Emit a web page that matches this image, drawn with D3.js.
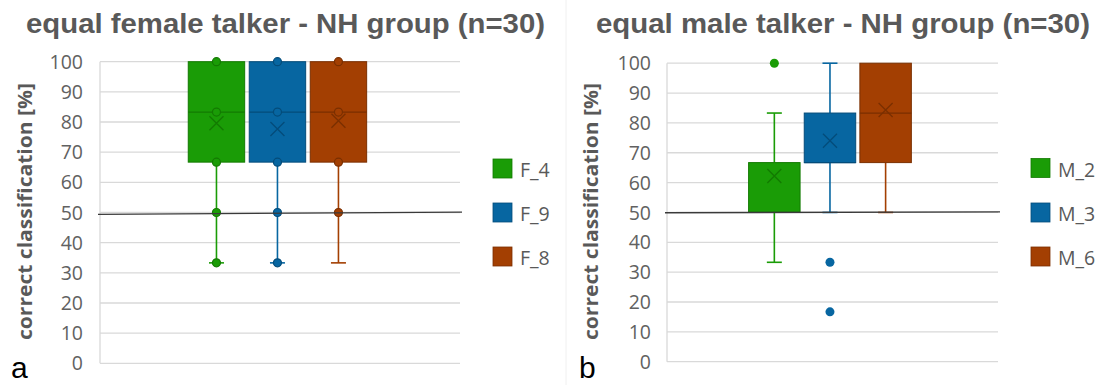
<!DOCTYPE html>
<html>
<head>
<meta charset="utf-8">
<script src="https://cdn.jsdelivr.net/npm/d3@7"></script>
<style>
  html, body { margin: 0; padding: 0; background: #fff; }
  svg { display: block; }
</style>
</head>
<body>
<svg id="chart" width="1102" height="385"></svg>
<script>
// ---- data: equal female talker ----
const femaleSeries = ["F_4", "F_9", "F_8"];
const femaleQ1 = [66.7, 66.7, 66.7];
const femaleMedian = [83.3, 83.3, 83.3];
const femaleQ3 = [100, 100, 100];
const femaleMean = [79.6, 77.7, 80.4];
const femaleWhiskerLow = [33.3, 33.3, 33.3];
const femaleWhiskerHigh = [100, 100, 100];
const femalePoints = [
  [100, 83.3, 66.7, 50, 33.3],
  [100, 83.3, 66.7, 50, 33.3],
  [100, 83.3, 66.7, 50]
];
const femaleOutliers = [[], [], []];
const femaleChance = [49.4, 50.1];

// ---- data: equal male talker ----
const maleSeries = ["M_2", "M_3", "M_6"];
const maleQ1 = [50, 66.7, 66.7];
const maleMedian = [50, 66.7, 83.3];
const maleQ3 = [66.7, 83.3, 100];
const maleMean = [62.2, 74.0, 84.3];
const maleWhiskerLow = [33.3, 50, 50];
const maleWhiskerHigh = [83.3, 100, 100];
const malePoints = [[], [], []];
const maleOutliers = [[100], [33.3, 16.7], []];
const maleChance = [49.9, 50.2];

const yTicks = [0, 10, 20, 30, 40, 50, 60, 70, 80, 90, 100];
const seriesFill = ["#1a9c06", "#0766a1", "#a33f02"];
const seriesDark = ["#137a02", "#044c7a", "#7a2f00"];

const svg = d3.select("#chart");

function panel(cfg) {
  const g = svg.append("g");
  const y = d3.scaleLinear().domain([0, 100]).range([cfg.y0, cfg.y1]);
  const outer = d3.scaleBand().domain(["NH"]).range([cfg.x0, cfg.x1])
    .paddingOuter(cfg.padOuter).paddingInner(0).align(cfg.align);
  const x = d3.scaleBand().domain(cfg.series)
    .range([outer("NH"), outer("NH") + outer.bandwidth()])
    .paddingInner(0.075).paddingOuter(0);

  // title
  g.append("text")
    .attr("x", cfg.titleX).attr("y", 33)
    .attr("font-family", "Liberation Sans, Arial, sans-serif")
    .attr("font-weight", "bold").attr("font-size", 28.5)
    .attr("fill", "#595959")
    .attr("textLength", cfg.titleLen).attr("lengthAdjust", "spacingAndGlyphs")
    .text(cfg.title);

  // gridlines
  g.append("g").selectAll("line").data(yTicks).join("line")
    .attr("x1", cfg.x0).attr("x2", cfg.x1)
    .attr("y1", d => y(d)).attr("y2", d => y(d))
    .attr("stroke", "#d9d9d9").attr("stroke-width", 1.3);
  g.append("line")
    .attr("x1", cfg.x0).attr("x2", cfg.x0)
    .attr("y1", y(0)).attr("y2", y(100))
    .attr("stroke", "#d9d9d9").attr("stroke-width", 1.3);

  // y axis tick labels
  const axis = d3.axisLeft(y).tickValues(yTicks).tickSize(0).tickPadding(0);
  const ax = g.append("g").attr("transform", `translate(${cfg.tickX},0)`).call(axis);
  ax.select(".domain").remove();
  ax.selectAll("text")
    .attr("font-family", "Open Sans, sans-serif").attr("font-size", 19.5)
    .attr("fill", "#616161").attr("dy", "0.34em");

  // y axis title
  g.append("text")
    .attr("transform", `translate(${cfg.labelX},211.5) rotate(-90)`)
    .attr("text-anchor", "middle")
    .attr("font-family", "Open Sans, sans-serif")
    .attr("font-weight", "bold").attr("font-size", 20)
    .attr("fill", "#595959")
    .attr("textLength", 257).attr("lengthAdjust", "spacingAndGlyphs")
    .text("correct classification [%]");

  // panel letter
  g.append("text")
    .attr("x", cfg.letterX).attr("y", 378)
    .attr("font-family", "Liberation Sans, Arial, sans-serif")
    .attr("font-size", 30).attr("fill", "#000")
    .text(cfg.letter);

  const rows = cfg.series.map((s, i) => ({
    s, i, q1: cfg.q1[i], med: cfg.median[i], q3: cfg.q3[i], mean: cfg.mean[i],
    lo: cfg.wLow[i], hi: cfg.wHigh[i], pts: cfg.points[i], out: cfg.outliers[i]
  }));
  const cx = d => x(d.s) + x.bandwidth() / 2;
  const capW = 15;

  const boxes = g.append("g").selectAll("g").data(rows).join("g");

  // whiskers
  boxes.each(function (d) {
    const b = d3.select(this);
    const c = cx(d);
    if (d.lo < d.q1) {
      b.append("line").attr("x1", c).attr("x2", c)
        .attr("y1", y(d.q1)).attr("y2", y(d.lo))
        .attr("stroke", seriesFill[d.i]).attr("stroke-width", 1.6);
      b.append("line").attr("x1", c - capW / 2).attr("x2", c + capW / 2)
        .attr("y1", y(d.lo)).attr("y2", y(d.lo))
        .attr("stroke", seriesFill[d.i]).attr("stroke-width", 1.6);
    }
    if (d.hi > d.q3) {
      b.append("line").attr("x1", c).attr("x2", c)
        .attr("y1", y(d.q3)).attr("y2", y(d.hi))
        .attr("stroke", seriesFill[d.i]).attr("stroke-width", 1.6);
      b.append("line").attr("x1", c - capW / 2).attr("x2", c + capW / 2)
        .attr("y1", y(d.hi)).attr("y2", y(d.hi))
        .attr("stroke", seriesFill[d.i]).attr("stroke-width", 1.6);
    }
  });

  // boxes
  boxes.append("rect")
    .attr("x", d => x(d.s)).attr("width", x.bandwidth())
    .attr("y", d => y(d.q3)).attr("height", d => y(d.q1) - y(d.q3))
    .attr("fill", d => seriesFill[d.i])
    .attr("stroke", d => seriesDark[d.i]).attr("stroke-width", 1);

  // medians
  boxes.append("line")
    .attr("x1", d => x(d.s)).attr("x2", d => x(d.s) + x.bandwidth())
    .attr("y1", d => y(d.med)).attr("y2", d => y(d.med))
    .attr("stroke", d => seriesDark[d.i]).attr("stroke-width", 1.3);

  // reference line at chance level
  const chance = d3.line().x(d => d[0]).y(d => y(d[1]));
  g.append("path")
    .datum([[cfg.x0 - 2, cfg.chance[0]], [cfg.x1 + 2, cfg.chance[1]]])
    .attr("d", chance).attr("fill", "none")
    .attr("stroke", "#3a3a3a").attr("stroke-width", 1.3);

  // inner points
  boxes.each(function (d) {
    d3.select(this).selectAll("circle.pt").data(d.pts).join("circle")
      .attr("class", "pt")
      .attr("cx", cx(d)).attr("cy", v => y(v)).attr("r", 4)
      .attr("fill", seriesFill[d.i])
      .attr("stroke", seriesDark[d.i]).attr("stroke-width", 1.2);
    d3.select(this).selectAll("circle.out").data(d.out).join("circle")
      .attr("class", "out")
      .attr("cx", cx(d)).attr("cy", v => y(v)).attr("r", 4.5)
      .attr("fill", seriesFill[d.i]);
  });

  // mean markers
  const m = 7;
  boxes.append("path")
    .attr("d", d => {
      const c = cx(d), yy = y(d.mean);
      return `M${c - m},${yy - m}L${c + m},${yy + m}M${c - m},${yy + m}L${c + m},${yy - m}`;
    })
    .attr("fill", "none")
    .attr("stroke", d => seriesDark[d.i]).attr("stroke-width", 1.3);

  // legend
  const leg = g.append("g").selectAll("g").data(cfg.series).join("g")
    .attr("transform", (d, i) => `translate(${cfg.legX},${cfg.legY[i]})`);
  leg.append("rect").attr("x", 0).attr("y", -9.5).attr("width", 19).attr("height", 19)
    .attr("fill", (d, i) => seriesFill[i])
    .attr("stroke", (d, i) => seriesDark[i]).attr("stroke-width", 0.8);
  leg.append("text").attr("x", 27).attr("y", 2).attr("dy", "0.35em")
    .attr("font-family", "Open Sans, sans-serif").attr("font-size", 19.5)
    .attr("fill", "#595959").text(d => d);
}

panel({
  title: "equal female talker - NH group (n=30)", titleX: 26, titleLen: 519,
  x0: 100, x1: 460, y0: 363.3, y1: 61.7, padOuter: 0.509, align: 0.486,
  tickX: 83, labelX: 31.5, letterX: 11, letter: "a",
  series: femaleSeries, q1: femaleQ1, median: femaleMedian, q3: femaleQ3,
  mean: femaleMean, wLow: femaleWhiskerLow, wHigh: femaleWhiskerHigh,
  points: femalePoints, outliers: femaleOutliers, chance: femaleChance,
  legX: 493, legY: [168.5, 212.5, 256.5]
});

panel({
  title: "equal male talker - NH group (n=30)", titleX: 596, titleLen: 494,
  x0: 667, x1: 998, y0: 361.7, y1: 63.2, padOuter: 0.517, align: 0.485,
  tickX: 651, labelX: 598, letterX: 579, letter: "b",
  series: maleSeries, q1: maleQ1, median: maleMedian, q3: maleQ3,
  mean: maleMean, wLow: maleWhiskerLow, wHigh: maleWhiskerHigh,
  points: malePoints, outliers: maleOutliers, chance: maleChance,
  legX: 1031, legY: [168, 212.5, 256.5]
});

// faint separator between the two charts
svg.append("line").attr("x1", 566).attr("x2", 566).attr("y1", 0).attr("y2", 385)
  .attr("stroke", "#f0f0f0").attr("stroke-width", 1);
</script>
</body>
</html>
